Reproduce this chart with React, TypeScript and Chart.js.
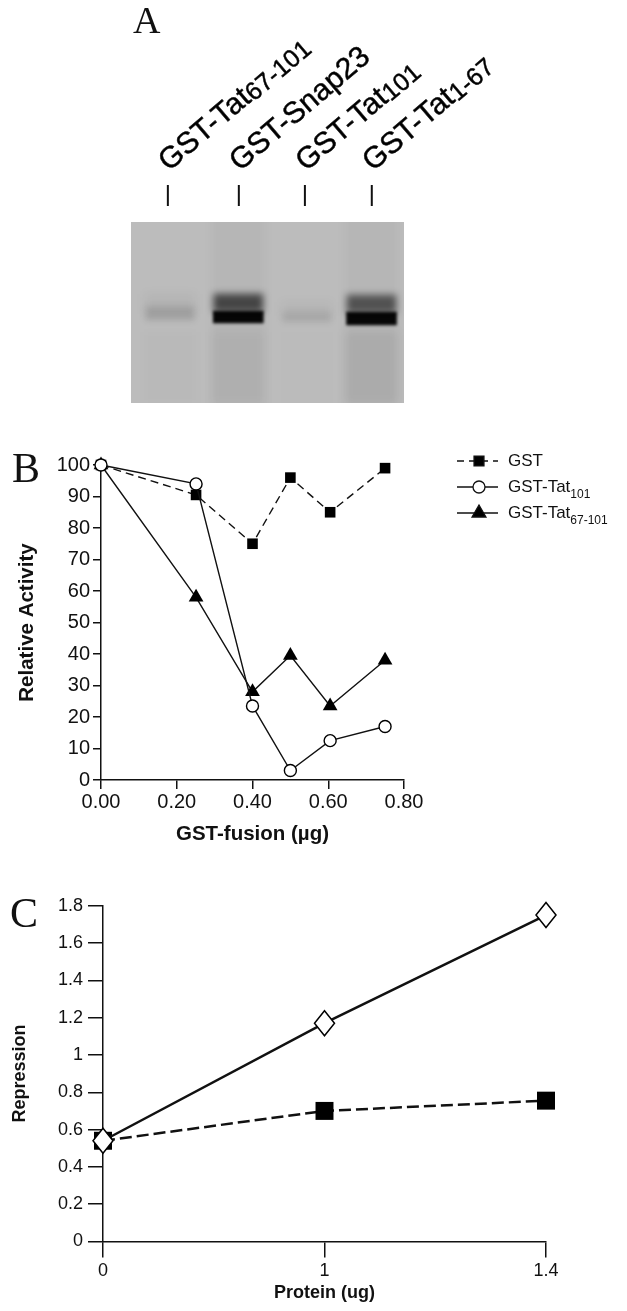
import React, { useEffect, useRef } from "react";
import { Chart, registerables } from "chart.js";
import { drawPoint } from "chart.js/helpers";

Chart.register(...registerables);

const SANS = "'Liberation Sans', Arial, sans-serif";
const SERIF = "'Liberation Serif', 'Times New Roman', serif";

// Panel A
const laneNames = ["GST-Tat", "GST-Snap23", "GST-Tat", "GST-Tat"];
const laneSubs = ["67-101", "", "101", "1-67"];
const laneTicks = [13.5, 39.5, 63.7, 88.2];
const laneCentres = [14.3, 39.3, 64.4, 88.1];
const strongBandRange = [[0, 0], [89, 101], [0, 0], [90, 103]];
const strongBandDark = [0, 0.97, 0, 0.97];
const strongSmearRange = [[0, 0], [72, 90], [0, 0], [73, 91]];
const strongSmearDark = [0, 0.62, 0, 0.55];
const faintBandRange = [[85, 98], [0, 0], [90, 100], [0, 0]];
const faintBandDark = [0.13, 0, 0.09, 0];
const faintSmearRange = [[72, 92], [0, 0], [80, 94], [0, 0]];
const faintSmearDark = [0.04, 0, 0.03, 0];
const lowerLaneRange = [[110, 181], [110, 181], [110, 181], [110, 181]];
const lowerLaneDark = [0.01, 0.035, 0.005, 0.06];
const fullLaneRange = [[-10, 191], [-10, 191], [-10, 191], [-10, 191]];
const fullLaneDark = [0.0, 0.03, 0.0, 0.03];

// Panel B
const doseX = [0, 0.251, 0.4, 0.5, 0.605, 0.75];
const gstValues = [100, 90.5, 75, 96, 85, 99];
const tat101Values = [100, 94, 23.5, 3, 12.5, 17];
const tat67Values = [100, 58, 28, 39.5, 23.5, 38];

// Panel C
const proteinLabels = ["0", "1", "1.4"];
const diamondValues = [0.54, 1.17, 1.75];
const squareValues = [0.54, 0.7, 0.755];

function xy(xs: number[], ys: number[]) {
  return xs.map((x, i) => ({ x, y: ys[i] }));
}

function letter(text: string, x: number, y: number, size: number) {
  return {
    id: "letter" + text,
    afterDraw(chart: any) {
      const c = chart.ctx;
      c.save();
      c.fillStyle = "#111";
      c.font = `${size}px ${SERIF}`;
      c.textAlign = "left";
      c.textBaseline = "alphabetic";
      c.fillText(text, x, y);
      c.restore();
    },
  };
}

const blurPlugin = {
  id: "blurPlugin",
  beforeDatasetDraw(chart: any, args: any) {
    const b = chart.data.datasets[args.index].blur;
    chart.ctx.save();
    if (b) chart.ctx.filter = `blur(${b}px)`;
  },
  afterDatasetDraw(chart: any) {
    chart.ctx.restore();
  },
};

const gelPlugin = {
  id: "gel",
  beforeDatasetsDraw(chart: any) {
    const { ctx, chartArea: a } = chart;
    ctx.save();
    ctx.fillStyle = "#bcbcbc";
    ctx.fillRect(a.left, a.top, a.right - a.left, a.bottom - a.top);
    ctx.restore();
  },
  afterDraw(chart: any) {
    const { ctx, scales } = chart;
    const x = scales.x;
    ctx.save();
    ctx.fillStyle = "#000";
    ctx.strokeStyle = "#111";
    laneTicks.forEach((v, i) => {
      const px = x.getPixelForValue(v);
      ctx.lineWidth = 2;
      ctx.beginPath();
      ctx.moveTo(px, 185);
      ctx.lineTo(px, 206);
      ctx.stroke();
      ctx.save();
      ctx.translate(px + 1, 172);
      ctx.rotate((-40.5 * Math.PI) / 180);
      ctx.lineWidth = 0.5;
      ctx.font = `30px ${SANS}`;
      ctx.textBaseline = "alphabetic";
      ctx.fillText(laneNames[i], 0, 0);
      ctx.strokeText(laneNames[i], 0, 0);
      const w = ctx.measureText(laneNames[i]).width;
      if (laneSubs[i]) {
        ctx.font = `25px ${SANS}`;
        ctx.fillText(laneSubs[i], w, 2);
        ctx.strokeText(laneSubs[i], w, 2);
      }
      ctx.restore();
    });
    ctx.restore();
  },
};

function legendB() {
  const rows = [
    { name: "GST", sub: "", y: 21, dash: [7, 5], style: "rect", r: 7, fill: "#000" },
    { name: "GST-Tat", sub: "101", y: 47, dash: [], style: "circle", r: 6, fill: "#fff" },
    { name: "GST-Tat", sub: "67-101", y: 73, dash: [], style: "triangle", r: 8, fill: "#000" },
  ];
  return {
    id: "legendB",
    afterDraw(chart: any) {
      const c = chart.ctx;
      c.save();
      rows.forEach((r) => {
        c.strokeStyle = "#111";
        c.lineWidth = 1.3;
        c.setLineDash(r.dash);
        c.beginPath();
        c.moveTo(457, r.y);
        c.lineTo(498, r.y);
        c.stroke();
        c.setLineDash([]);
        c.fillStyle = r.fill;
        drawPoint(c, { pointStyle: r.style, radius: r.r, borderWidth: 1.3, rotation: 0 }, 479, r.y);
        c.fillStyle = "#111";
        c.font = `17px ${SANS}`;
        c.textBaseline = "middle";
        c.fillText(r.name, 508, r.y);
        const w = c.measureText(r.name).width;
        if (r.sub) {
          c.font = `12px ${SANS}`;
          c.fillText(r.sub, 508 + w, r.y + 8);
        }
      });
      c.restore();
    },
  };
}

const diamondPlugin = {
  id: "diamonds",
  afterDatasetsDraw(chart: any) {
    const c = chart.ctx;
    const meta = chart.getDatasetMeta(0);
    c.save();
    c.fillStyle = "#fff";
    c.strokeStyle = "#000";
    c.lineWidth = 1.5;
    meta.data.forEach((p: any) => {
      c.beginPath();
      c.moveTo(p.x, p.y - 12.5);
      c.lineTo(p.x + 10, p.y);
      c.lineTo(p.x, p.y + 12.5);
      c.lineTo(p.x - 10, p.y);
      c.closePath();
      c.fill();
      c.stroke();
    });
    c.restore();
  },
};

const blackGrid = (len: number) => ({
  drawOnChartArea: false,
  drawTicks: true,
  tickLength: len,
  color: "#111",
  lineWidth: 1.5,
});
const axisBorder = { display: true, color: "#111", width: 1.5 };

function useChart(build: (c: HTMLCanvasElement) => Chart) {
  const ref = useRef<HTMLCanvasElement>(null);
  useEffect(() => {
    const chart = build(ref.current!);
    return () => chart.destroy();
  }, []);
  return ref;
}

function panelA(canvas: HTMLCanvasElement) {
  const pts = (r: number[][]) => laneCentres.map((x, i) => ({ x, y: r[i] }));
  const col = (d: number[]) => d.map((v) => `rgba(0,0,0,${v})`);
  return new Chart(canvas, {
    type: "bar",
    data: {
      datasets: [
        { data: pts(strongBandRange), backgroundColor: col(strongBandDark), barThickness: 50, grouped: false, blur: 1.8 },
        { data: pts(strongSmearRange), backgroundColor: col(strongSmearDark), barThickness: 49, grouped: false, blur: 3.5 },
        { data: pts(faintBandRange), backgroundColor: col(faintBandDark), barThickness: 48, grouped: false, blur: 3 },
        { data: pts(faintSmearRange), backgroundColor: col(faintSmearDark), barThickness: 50, grouped: false, blur: 5 },
        { data: pts(lowerLaneRange), backgroundColor: col(lowerLaneDark), barThickness: 52, grouped: false, blur: 5 },
        { data: pts(fullLaneRange), backgroundColor: col(fullLaneDark), barThickness: 52, grouped: false, blur: 5 },
      ] as any,
    },
    options: {
      responsive: false,
      animation: false,
      devicePixelRatio: 1,
      layout: { padding: { top: 222, bottom: 17, left: 131, right: 223 } },
      plugins: { legend: { display: false }, tooltip: { enabled: false } },
      scales: {
        x: { type: "linear", min: 0, max: 100, display: false, offset: false },
        y: { min: 0, max: 181, reverse: true, display: false },
      },
    } as any,
    plugins: [blurPlugin, gelPlugin, letter("A", 133, 33, 38)],
  } as any);
}

function panelB(canvas: HTMLCanvasElement) {
  return new Chart(canvas, {
    type: "line",
    data: {
      datasets: [
        {
          data: xy(doseX, gstValues), order: 2, borderColor: "#111", borderWidth: 1.4, borderDash: [8, 5],
          pointStyle: "rect", pointRadius: 7.5, pointBackgroundColor: "#000", pointBorderColor: "#000", pointBorderWidth: 0, clip: false,
        },
        {
          data: xy(doseX, tat101Values), order: 0, borderColor: "#111", borderWidth: 1.4,
          pointStyle: "circle", pointRadius: 6, pointBackgroundColor: "#fff", pointBorderColor: "#000", pointBorderWidth: 1.4, clip: false,
        },
        {
          data: xy(doseX, tat67Values), order: 1, borderColor: "#111", borderWidth: 1.4,
          pointStyle: "triangle", pointRadius: 8.5, pointBackgroundColor: "#000", pointBorderColor: "#000", pointBorderWidth: 0, clip: false,
        },
      ],
    },
    options: {
      responsive: false,
      animation: false,
      devicePixelRatio: 1,
      layout: { padding: { top: 25, bottom: 0, left: 0, right: 223 } },
      plugins: { legend: { display: false }, tooltip: { enabled: false } },
      scales: {
        x: {
          type: "linear", min: 0, max: 0.8,
          grid: blackGrid(9), border: axisBorder,
          ticks: {
            stepSize: 0.2, autoSkip: false, maxRotation: 0, padding: 1, color: "#111",
            font: { family: SANS, size: 20 },
            callback: (v: any) => Number(v).toFixed(2),
          },
          title: { display: true, text: "GST-fusion (µg)", color: "#111", font: { family: SANS, size: 20.5, weight: "bold" }, padding: { top: 0, bottom: 13 } },
          afterFit: (s: any) => { s.height = 80; },
        },
        y: {
          min: 0, max: 100,
          grid: blackGrid(8), border: axisBorder,
          ticks: {
            stepSize: 10, autoSkip: false, padding: 3, color: "#111",
            font: { family: SANS, size: 20 },
          },
          title: { display: true, text: "Relative Activity", color: "#111", font: { family: SANS, size: 20.5, weight: "bold" }, padding: { top: 15, bottom: 0 } },
          afterFit: (s: any) => { s.width = 101; },
        },
      },
    } as any,
    plugins: [legendB(), letter("B", 12, 42, 42)],
  } as any);
}

function panelC(canvas: HTMLCanvasElement) {
  return new Chart(canvas, {
    type: "line",
    data: {
      labels: proteinLabels,
      datasets: [
        {
          data: diamondValues, order: 0, borderColor: "#111", borderWidth: 2.5,
          pointRadius: 0, clip: false,
        },
        {
          data: squareValues, order: 1, borderColor: "#111", borderWidth: 2.5, borderDash: [12, 5],
          pointStyle: "rect", pointRadius: 12.7, pointBackgroundColor: "#000", pointBorderColor: "#000", pointBorderWidth: 0, clip: false,
        },
      ],
    },
    options: {
      responsive: false,
      animation: false,
      devicePixelRatio: 1,
      layout: { padding: { top: 25.7, bottom: 0, left: 0, right: 81 } },
      plugins: { legend: { display: false }, tooltip: { enabled: false } },
      scales: {
        x: {
          type: "category", offset: false,
          grid: blackGrid(16), border: axisBorder,
          ticks: {
            autoSkip: false, maxRotation: 0, padding: 3, color: "#111",
            font: { family: SANS, size: 18 },
          },
          title: { display: true, text: "Protein (ug)", color: "#111", font: { family: SANS, size: 18, weight: "bold" }, padding: { top: 0, bottom: 7 } },
          afterFit: (s: any) => { s.height = 69.5; },
        },
        y: {
          min: 0, max: 1.8,
          grid: blackGrid(15), border: axisBorder,
          ticks: {
            stepSize: 0.2, autoSkip: false, padding: 5, color: "#111",
            font: { family: SANS, size: 18 },
            callback: (v: any) => String(Math.round(Number(v) * 10) / 10),
          },
          title: { display: true, text: "Repression", color: "#111", font: { family: SANS, size: 18, weight: "bold" }, padding: { top: 9, bottom: 0 } },
          afterFit: (s: any) => { s.width = 103; },
        },
      },
    } as any,
    plugins: [diamondPlugin, letter("C", 10, 47, 42)],
  } as any);
}

export default function App() {
  const a = useChart(panelA);
  const b = useChart(panelB);
  const c = useChart(panelC);
  const base: React.CSSProperties = { position: "absolute", left: 0, display: "block" };
  return (
    <div style={{ position: "absolute", left: 0, top: 0, width: 627, height: 1311, background: "#fff", overflow: "hidden" }}>
      <canvas ref={a} width={627} height={420} style={{ ...base, top: 0 }} />
      <canvas ref={b} width={627} height={420} style={{ ...base, top: 440 }} />
      <canvas ref={c} width={627} height={431} style={{ ...base, top: 880 }} />
    </div>
  );
}
